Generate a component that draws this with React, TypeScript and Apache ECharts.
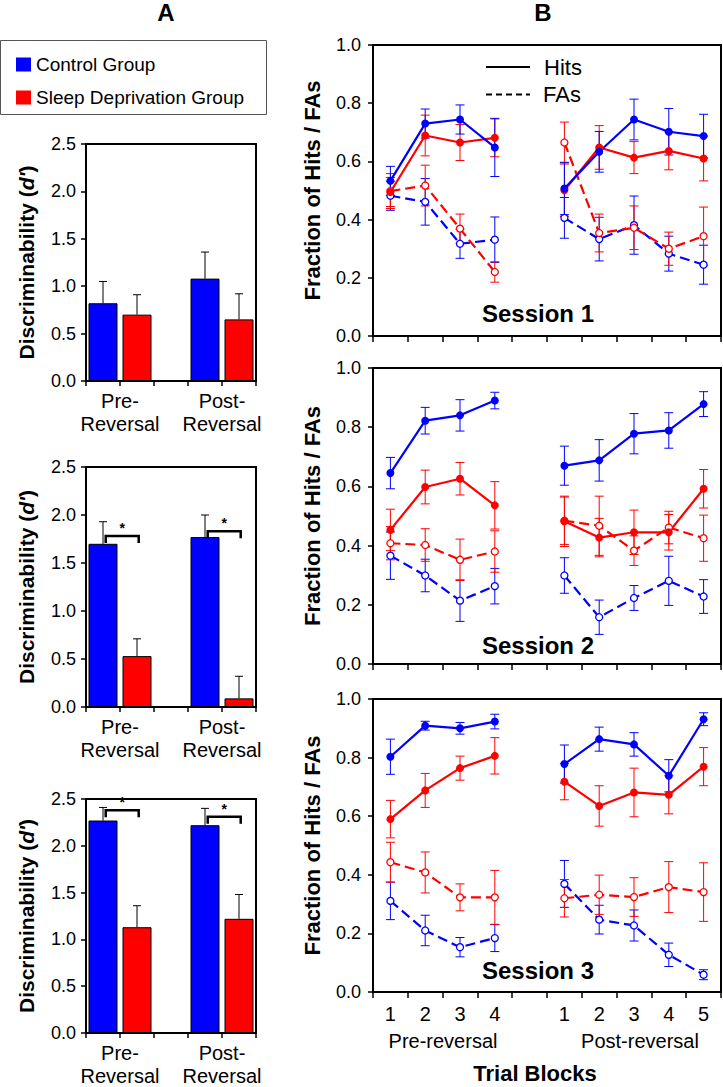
import React, { useEffect, useRef } from 'react';
import * as echarts from 'echarts';

const BLUE = '#0000ff';
const RED = '#ff0000';
const FONT = 'Liberation Sans, Arial, Helvetica, sans-serif';

// ---------- Panel A: discriminability (d') ----------
const barGroupLabels = ['Pre-\nReversal', 'Post-\nReversal'];
const groupSlots = [0, 3];
const controlDprime = [[0.82, 1.08], [1.70, 1.77], [2.27, 2.22]];
const controlDprimeErr = [[0.23, 0.28], [0.23, 0.23], [0.14, 0.18]];
const sleepDprime = [[0.70, 0.65], [0.53, 0.09], [1.13, 1.22]];
const sleepDprimeErr = [[0.21, 0.27], [0.18, 0.23], [0.23, 0.26]];
const sigBracketY = [[null, null], [1.78, 1.83], [2.38, 2.31]];

// ---------- Panel B: fraction of hits / FAs ----------
const blockLabels = ['1', '2', '3', '4', '', '1', '2', '3', '4', '5'];
const sessionNames = ['Session 1', 'Session 2', 'Session 3'];

const controlHits = [
  [0.533, 0.730, 0.744, 0.648, null, 0.507, 0.633, 0.744, 0.702, 0.687],
  [0.645, 0.822, 0.840, 0.890, null, 0.670, 0.688, 0.778, 0.789, 0.878],
  [0.803, 0.909, 0.900, 0.923, null, 0.778, 0.863, 0.845, 0.738, 0.931],
];
const controlHitsErr = [
  [0.05, 0.05, 0.05, 0.10, null, 0.09, 0.07, 0.07, 0.08, 0.075],
  [0.053, 0.045, 0.053, 0.028, null, 0.066, 0.07, 0.068, 0.06, 0.042],
  [0.06, 0.015, 0.02, 0.025, null, 0.065, 0.041, 0.04, 0.055, 0.022],
];
const sleepHits = [
  [0.495, 0.689, 0.665, 0.681, null, 0.501, 0.648, 0.613, 0.636, 0.610],
  [0.453, 0.598, 0.626, 0.536, null, 0.482, 0.427, 0.445, 0.445, 0.592],
  [0.590, 0.688, 0.764, 0.806, null, 0.718, 0.635, 0.681, 0.673, 0.769],
];
const sleepHitsErr = [
  [0.05, 0.07, 0.062, 0.065, null, 0.09, 0.075, 0.055, 0.065, 0.077],
  [0.07, 0.057, 0.055, 0.08, null, 0.085, 0.065, 0.075, 0.06, 0.065],
  [0.064, 0.058, 0.041, 0.062, null, 0.062, 0.069, 0.083, 0.065, 0.065],
];
const controlFAs = [
  [0.482, 0.461, 0.317, 0.331, null, 0.406, 0.333, 0.381, 0.283, 0.245],
  [0.366, 0.299, 0.214, 0.263, null, 0.299, 0.158, 0.223, 0.281, 0.228],
  [0.311, 0.210, 0.153, 0.184, null, 0.369, 0.247, 0.227, 0.127, 0.059],
];
const controlFAsErr = [
  [0.05, 0.08, 0.05, 0.078, null, 0.07, 0.075, 0.10, 0.06, 0.067],
  [0.08, 0.055, 0.07, 0.06, null, 0.06, 0.058, 0.042, 0.083, 0.057],
  [0.064, 0.052, 0.033, 0.046, null, 0.08, 0.049, 0.053, 0.04, 0.017],
];
const sleepFAs = [
  [0.498, 0.517, 0.369, 0.220, null, 0.665, 0.354, 0.372, 0.300, 0.343],
  [0.408, 0.402, 0.352, 0.380, null, 0.484, 0.467, 0.383, 0.461, 0.425],
  [0.443, 0.408, 0.323, 0.323, null, 0.320, 0.332, 0.324, 0.358, 0.341],
];
const sleepFAsErr = [
  [0.06, 0.07, 0.05, 0.035, null, 0.07, 0.065, 0.075, 0.057, 0.10],
  [0.056, 0.055, 0.07, 0.07, null, 0.08, 0.1, 0.05, 0.055, 0.078],
  [0.068, 0.07, 0.046, 0.092, null, 0.064, 0.067, 0.066, 0.087, 0.1],
];

// ---------- layout ----------
const aGrids = [
  { left: 86, top: 144, width: 170, height: 237 },
  { left: 86, top: 467, width: 170, height: 240 },
  { left: 86, top: 799, width: 170, height: 237 },
];
const bGrids = [
  { left: 373, top: 45, width: 348, height: 291 },
  { left: 373, top: 368, width: 348, height: 296 },
  { left: 373, top: 699, width: 348, height: 293 },
];

function errorBarRender(color: string, capHalf: number, both: boolean) {
  return (params: any, api: any) => {
    const x = api.value(0);
    const m = api.value(1);
    const e = api.value(2);
    const top = api.coord([x, m + e]);
    const bot = api.coord([x, both ? m - e : m]);
    const st = { stroke: color, lineWidth: 1 };
    const children: any[] = [
      { type: 'line', shape: { x1: top[0], y1: top[1], x2: bot[0], y2: bot[1] }, style: st },
      { type: 'line', shape: { x1: top[0] - capHalf, y1: top[1], x2: top[0] + capHalf, y2: top[1] }, style: st },
    ];
    if (both) {
      children.push({ type: 'line', shape: { x1: bot[0] - capHalf, y1: bot[1], x2: bot[0] + capHalf, y2: bot[1] }, style: st });
    }
    return { type: 'group', children };
  };
}

function bracketRender(params: any, api: any) {
  const x1 = api.value(0);
  const x2 = api.value(1);
  const y = api.value(2);
  const p1 = api.coord([x1, y]);
  const p2 = api.coord([x2, y]);
  return {
    type: 'group',
    children: [
      {
        type: 'polyline',
        shape: { points: [[p1[0], p1[1] + 7], [p1[0], p1[1]], [p2[0], p2[1]], [p2[0], p2[1] + 7]] },
        style: { stroke: '#000', lineWidth: 2.5, fill: 'none' },
      },
      {
        type: 'text',
        x: (p1[0] + p2[0]) / 2,
        y: p1[1] - 1,
        style: { text: '*', fill: '#000', font: `bold 14px ${FONT}`, align: 'center', verticalAlign: 'bottom' },
      },
    ],
  };
}

function buildOption() {
  const grid: any[] = [];
  const xAxis: any[] = [];
  const yAxis: any[] = [];
  const series: any[] = [];

  const axisLineStyle = { color: '#000', width: 2 };
  const labelStyle = { color: '#000', fontFamily: FONT };

  // Panel A
  aGrids.forEach((g, s) => {
    grid.push({ ...g, show: true, borderColor: '#000', borderWidth: 2, backgroundColor: 'transparent' });
    xAxis.push({
      gridIndex: s,
      type: 'value',
      min: 0,
      max: 5,
      interval: 1,
      axisLine: { show: true, lineStyle: axisLineStyle },
      axisTick: { show: true, inside: false, length: 5, lineStyle: { color: '#000', width: 1.5 } },
      splitLine: { show: false },
      axisLabel: {
        ...labelStyle,
        fontSize: 20,
        lineHeight: 23,
        margin: 8,
        formatter: (v: number) => {
          const gi = groupSlots.findIndex((sl) => sl + 1 === v);
          return gi >= 0 ? barGroupLabels[gi] : '';
        },
      },
    });
    yAxis.push({
      gridIndex: s,
      type: 'value',
      min: 0,
      max: 2.5,
      interval: 0.5,
      name: "Discriminability ({i|d'})",
      nameLocation: 'middle',
      nameGap: 49,
      nameTextStyle: {
        color: '#000',
        fontFamily: FONT,
        fontSize: 21,
        fontWeight: 'bold',
        rich: { i: { fontStyle: 'italic', fontWeight: 'bold', fontSize: 21, fontFamily: FONT, color: '#000' } },
      },
      axisLine: { show: true, lineStyle: axisLineStyle },
      axisTick: { show: true, inside: false, length: 5, lineStyle: { color: '#000', width: 1.5 } },
      splitLine: { show: false },
      axisLabel: { ...labelStyle, fontSize: 18, margin: 10, formatter: (v: number) => v.toFixed(1) },
    });

    series.push({
      name: 'Control Group',
      type: 'bar',
      xAxisIndex: s,
      yAxisIndex: s,
      barWidth: 29,
      barGap: '-100%',
      itemStyle: { color: BLUE, borderColor: '#000', borderWidth: 1 },
      data: groupSlots.map((sl, gi) => [sl + 0.5, controlDprime[s][gi]]),
      z: 2,
    });
    series.push({
      name: 'Sleep Deprivation Group',
      type: 'bar',
      xAxisIndex: s,
      yAxisIndex: s,
      barWidth: 29,
      barGap: '-100%',
      itemStyle: { color: RED, borderColor: '#000', borderWidth: 1 },
      data: groupSlots.map((sl, gi) => [sl + 1.5, sleepDprime[s][gi]]),
      z: 2,
    });
    const errData: any[] = [];
    groupSlots.forEach((sl, gi) => {
      errData.push([sl + 0.5, controlDprime[s][gi], controlDprimeErr[s][gi]]);
      errData.push([sl + 1.5, sleepDprime[s][gi], sleepDprimeErr[s][gi]]);
    });
    series.push({
      type: 'custom',
      xAxisIndex: s,
      yAxisIndex: s,
      renderItem: errorBarRender('#000', 4, false),
      encode: { x: 0, y: 1 },
      data: errData,
      z: 3,
      silent: true,
    });
    const br: any[] = [];
    groupSlots.forEach((sl, gi) => {
      const yv = sigBracketY[s][gi];
      if (yv != null) br.push([sl + 0.58, sl + 1.55, yv]);
    });
    if (br.length) {
      series.push({
        type: 'custom',
        xAxisIndex: s,
        yAxisIndex: s,
        renderItem: bracketRender,
        encode: { x: [0, 1], y: 2 },
        data: br,
        z: 4,
        silent: true,
      });
    }
  });

  // Panel B
  bGrids.forEach((g, s) => {
    const idx = 3 + s;
    grid.push({ ...g, show: true, borderColor: '#000', borderWidth: 2, backgroundColor: 'transparent' });
    xAxis.push({
      gridIndex: idx,
      type: 'category',
      data: blockLabels,
      boundaryGap: true,
      axisLine: { show: true, lineStyle: axisLineStyle },
      axisTick: { show: true, inside: false, length: 6, interval: 0, lineStyle: { color: '#000', width: 1.5 } },
      splitLine: { show: false },
      axisLabel: { show: s === 2, ...labelStyle, fontSize: 20, margin: 12, interval: 0 },
    });
    yAxis.push({
      gridIndex: idx,
      type: 'value',
      min: 0,
      max: 1,
      interval: 0.2,
      name: 'Fraction of Hits / FAs',
      nameLocation: 'middle',
      nameGap: 50,
      nameTextStyle: { color: '#000', fontFamily: FONT, fontSize: 22, fontWeight: 'bold' },
      axisLine: { show: true, lineStyle: axisLineStyle },
      axisTick: { show: true, inside: false, length: 5, lineStyle: { color: '#000', width: 1.5 } },
      splitLine: { show: false },
      axisLabel: { ...labelStyle, fontSize: 18, margin: 12, formatter: (v: number) => v.toFixed(1) },
    });

    const defs = [
      { vals: controlFAs[s], errs: controlFAsErr[s], color: BLUE, filled: false },
      { vals: sleepFAs[s], errs: sleepFAsErr[s], color: RED, filled: false },
      { vals: sleepHits[s], errs: sleepHitsErr[s], color: RED, filled: true },
      { vals: controlHits[s], errs: controlHitsErr[s], color: BLUE, filled: true },
    ];
    defs.forEach((d) => {
      const eData = d.vals
        .map((v, i) => (v == null ? null : [i, v, d.errs[i]]))
        .filter((r) => r != null);
      series.push({
        type: 'custom',
        xAxisIndex: idx,
        yAxisIndex: idx,
        renderItem: errorBarRender(d.color, 4.5, true),
        encode: { x: 0, y: 1 },
        data: eData,
        z: 2,
        silent: true,
      });
    });
    defs.forEach((d) => {
      series.push({
        type: 'line',
        xAxisIndex: idx,
        yAxisIndex: idx,
        data: d.vals.map((v) => (v == null ? '-' : v)),
        symbol: 'circle',
        symbolSize: d.filled ? 8 : 7,
        showAllSymbol: true,
        connectNulls: false,
        lineStyle: { color: d.color, width: 2.2, type: d.filled ? 'solid' : [10, 5] },
        itemStyle: {
          color: d.filled ? d.color : '#fff',
          borderColor: d.color,
          borderWidth: d.filled ? 0 : 1.3,
        },
        z: 3,
        silent: true,
      });
    });
  });

  const txt = (text: string, x: number, y: number, font: string, align = 'center') => ({
    type: 'text',
    x,
    y,
    style: { text, fill: '#000', font, align, verticalAlign: 'middle', textAlign: align, textVerticalAlign: 'middle' },
    silent: true,
  });

  const graphic: any[] = [
    txt('A', 166, 12, `bold 24px ${FONT}`),
    txt('B', 543, 12, `bold 24px ${FONT}`),
    {
      type: 'rect',
      shape: { x: 0.5, y: 40.5, width: 266, height: 74 },
      style: { fill: 'none', stroke: '#555', lineWidth: 1 },
      silent: true,
    },
    { type: 'line', shape: { x1: 486, y1: 67, x2: 530, y2: 67 }, style: { stroke: '#000', lineWidth: 2 }, silent: true },
    { type: 'line', shape: { x1: 486, y1: 94.5, x2: 530, y2: 94.5 }, style: { stroke: '#000', lineWidth: 2, lineDash: [6, 4] }, silent: true },
    txt('Hits', 544, 67, `22px ${FONT}`, 'left'),
    txt('FAs', 543, 94.5, `22px ${FONT}`, 'left'),
    txt(sessionNames[0], 538, 313, `bold 24px ${FONT}`),
    txt(sessionNames[1], 538, 645, `bold 24px ${FONT}`),
    txt(sessionNames[2], 538, 970, `bold 24px ${FONT}`),
    txt('Pre-reversal', 443, 1041, `20px ${FONT}`),
    txt('Post-reversal', 640, 1041, `20px ${FONT}`),
    txt('Trial Blocks', 535, 1073, `bold 22px ${FONT}`),
  ];

  return {
    animation: false,
    backgroundColor: '#fff',
    textStyle: { fontFamily: FONT },
    legend: {
      data: ['Control Group', 'Sleep Deprivation Group'],
      orient: 'vertical',
      left: 16,
      top: 55,
      padding: 0,
      itemWidth: 15,
      itemHeight: 14,
      itemGap: 14,
      icon: 'rect',
      selectedMode: false,
      itemStyle: { borderWidth: 0 },
      textStyle: { color: '#000', fontSize: 19, fontFamily: FONT },
    },
    grid,
    xAxis,
    yAxis,
    series,
    graphic,
  };
}

export default function App() {
  const ref = useRef<HTMLDivElement>(null);
  useEffect(() => {
    document.body.style.margin = '0';
    const chart = echarts.init(ref.current as HTMLDivElement, null, { renderer: 'svg' });
    chart.setOption(buildOption() as any);
    return () => chart.dispose();
  }, []);
  return <div ref={ref} style={{ width: 723, height: 1087 }} />;
}
